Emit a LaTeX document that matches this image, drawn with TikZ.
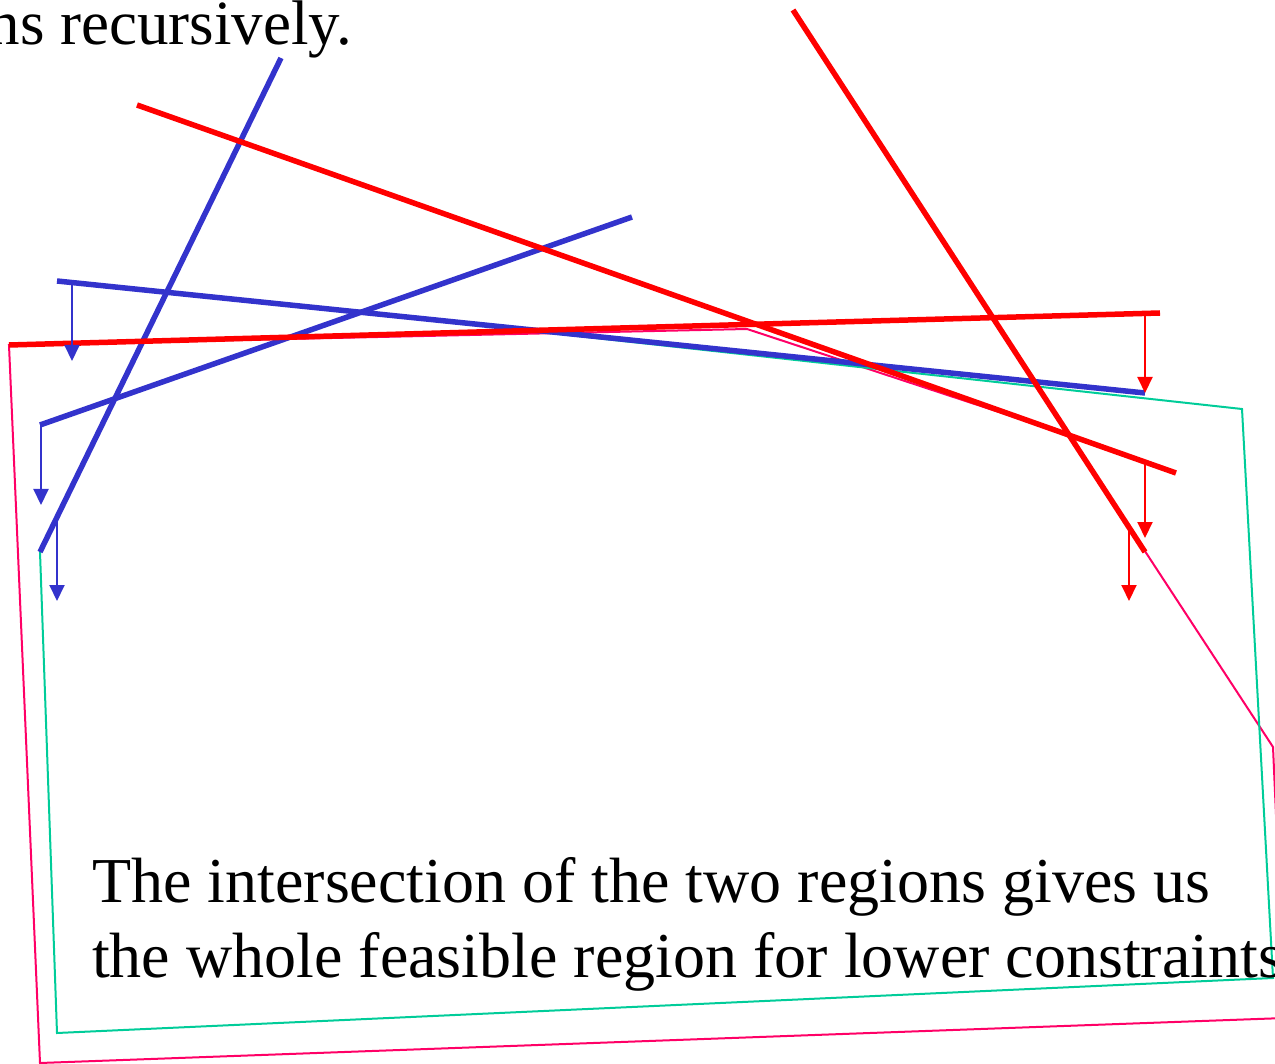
\documentclass[tikz,border=0pt]{standalone}
\usepackage{fontspec}
\setmainfont{Liberation Serif}
\usetikzlibrary{arrows.meta}
\definecolor{lblue}{HTML}{3333CC}
\definecolor{lred}{HTML}{FF0000}
\definecolor{lmag}{HTML}{FF0066}
\definecolor{lgreen}{HTML}{00CC99}
\begin{document}
\begin{tikzpicture}[x=1pt,y=-1pt,
  cline/.style={line width=5.5pt},
  region/.style={line width=2pt, line join=miter},
  darrow/.style={line width=2pt,-{Triangle[length=16pt,width=15pt]}},
  txt/.style={font=\fontsize{64}{75}\selectfont, inner sep=0pt}]
\useasboundingbox (0,0) rectangle (1275,1064);
\clip (0,0) rectangle (1275,1064);
% line end points
\coordinate (b1s) at (40,552);  \coordinate (b1e) at (281,58);
\coordinate (b2s) at (40,425);  \coordinate (b2e) at (632,217);
\coordinate (b3s) at (57,281);  \coordinate (b3e) at (1145,393);
\coordinate (r1s) at (9,345);   \coordinate (r1e) at (1160,313);
\coordinate (r2s) at (137,105); \coordinate (r2e) at (1176,473);
\coordinate (r3s) at (793,10);  \coordinate (r3e) at (1145,552);
% region corners
\coordinate (g1) at (intersection of b1s--b1e and b2s--b2e);
\coordinate (g2) at (intersection of b2s--b2e and b3s--b3e);
\coordinate (g3) at (1242,409);
\coordinate (g4) at (1273,978);
\coordinate (g5) at (57,1033);
\coordinate (m1) at (747,329);
\coordinate (m2) at (intersection of r2s--r2e and r3s--r3e);
\coordinate (m3) at (1273,747);
\coordinate (m4) at (1285,1018);
\coordinate (m5) at (40,1063);
% arrow ends
\coordinate (ba1s) at (72,283);   \coordinate (ba1e) at (72,361);
\coordinate (ba2s) at (41,425);   \coordinate (ba2e) at (41,505);
\coordinate (ba3s) at (57,520);   \coordinate (ba3e) at (57,601);
\coordinate (ra1s) at (1145,315); \coordinate (ra1e) at (1145,393);
\coordinate (ra2s) at (1145,460); \coordinate (ra2e) at (1145,538);
\coordinate (ra3s) at (1129,527); \coordinate (ra3e) at (1129,601);
% regions
\draw[region, lmag] (r1s) -- (m1) -- (m2) -- (m3) -- (m4) -- (m5) -- cycle;
\draw[region, lgreen] (b1s) -- (g1) -- (g2) -- (g3) -- (g4) -- (g5) -- cycle;
% constraint lines
\draw[cline, lblue] (b1s) -- (b1e);
\draw[cline, lblue] (b2s) -- (b2e);
\draw[cline, lblue] (b3s) -- (b3e);
\draw[cline, lred] (r1s) -- (r1e);
\draw[cline, lred] (r2s) -- (r2e);
\draw[cline, lred] (r3s) -- (r3e);
% direction arrows
\draw[darrow, lblue] (ba1s) -- (ba1e);
\draw[darrow, lblue] (ba2s) -- (ba2e);
\draw[darrow, lblue] (ba3s) -- (ba3e);
\draw[darrow, lred] (ra1s) -- (ra1e);
\draw[darrow, lred] (ra2s) -- (ra2e);
\draw[darrow, lred] (ra3s) -- (ra3e);
% texts
\node[txt, font=\fontsize{63}{75}\selectfont, anchor=base east] (t1) at (352,45) {ns recursively.};
\node[txt, anchor=base west, align=left] (t2) at (92,977) {The intersection of the two regions gives us\\the whole feasible region for lower constraints};
\end{tikzpicture}
\end{document}
